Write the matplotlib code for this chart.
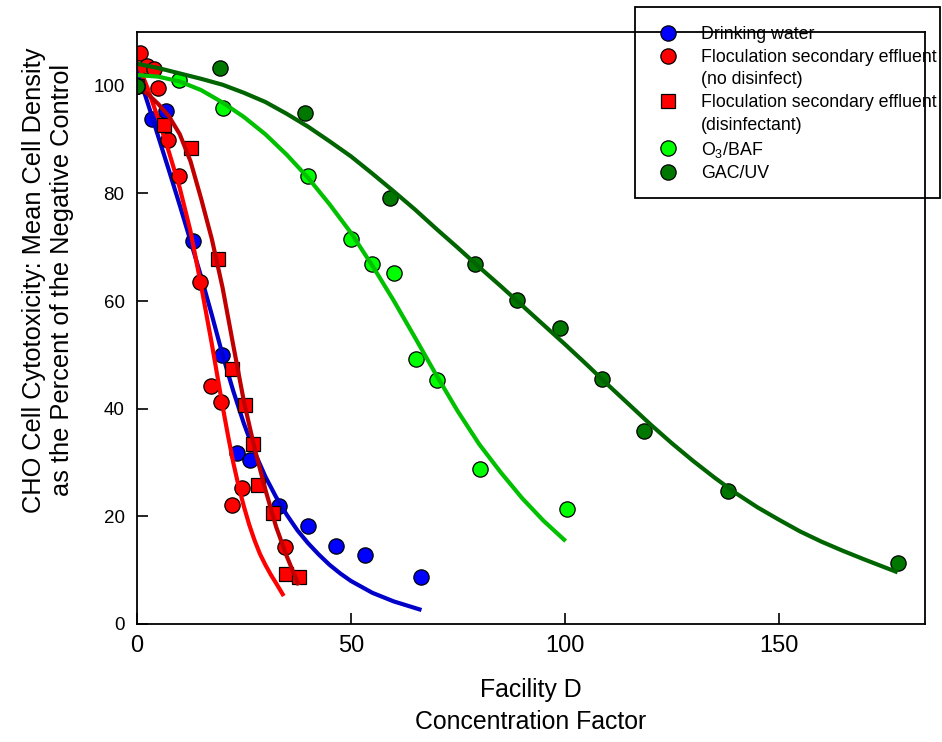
import matplotlib
matplotlib.use('Agg')
import matplotlib.pyplot as plt
from matplotlib.lines import Line2D
from matplotlib.patches import Rectangle

plt.rcParams['font.family'] = ['Liberation Sans', 'DejaVu Sans']
plt.rcParams['mathtext.fontset'] = 'custom'
plt.rcParams['mathtext.rm'] = 'Liberation Sans'

# measured points
dw_x = [0, 3.4, 6.8, 13.2, 19.8, 23.3, 26.5, 33.1, 39.9, 46.6, 53.2, 66.5]
dw_y = [100, 93.9, 95.3, 71.1, 50.0, 31.7, 30.5, 21.9, 18.2, 14.5, 12.8, 8.7]

nd_x = [0, 0.8, 2.3, 4.0, 5.0, 7.3, 9.9, 14.8, 17.3, 19.6, 22.2, 24.5, 34.5]
nd_y = [100, 106.1, 103.6, 103.1, 99.6, 90.0, 83.2, 63.5, 44.2, 41.2, 22.1, 25.2, 14.4]

dis_x = [0, 6.2, 12.6, 19.0, 22.2, 25.3, 27.2, 28.4, 31.7, 34.8, 37.9]
dis_y = [100, 92.8, 88.5, 67.8, 47.3, 40.6, 33.5, 25.9, 20.6, 9.2, 8.8]

o3_x = [0, 9.9, 20.0, 39.9, 50.1, 55.0, 60.1, 65.2, 70.2, 80.2, 100.4]
o3_y = [100, 101.0, 95.8, 83.3, 71.6, 66.9, 65.2, 49.2, 45.4, 28.8, 21.4]

gac_x = [0, 19.5, 39.3, 59.2, 78.9, 88.8, 98.8, 108.7, 118.5, 138.2, 177.9]
gac_y = [100, 103.3, 95.0, 79.1, 66.9, 60.2, 55.0, 45.5, 35.9, 24.8, 11.3]

# fitted curves
dw_fx = [0, 2.5, 5, 7.5, 10, 12.5, 15, 17.5, 20, 22.5, 25, 27.5, 30, 32.5, 35,
         37.5, 40, 42.5, 45, 47.5, 50, 55, 60, 66.5]
dw_fy = [103.0, 96.8, 90.5, 84.2, 77.8, 71.2, 64.5, 57.4, 50.0, 43.3, 37.2, 31.9, 27.4,
         23.6, 20.3, 17.4, 15.0, 12.9, 11.0, 9.4, 8.0, 5.8, 4.2, 2.6]

nd_fx = [0, 2.5, 5, 7.5, 10, 12.5, 15, 17.5, 20, 21.25, 22.5, 23.75, 25, 26.25, 27.5,
         28.75, 30, 31.25, 32.5, 34.3]
nd_fy = [104.5, 99.5, 93.8, 87.6, 81.0, 73.0, 62.8, 52.0, 40.5, 35.1, 30.0, 25.6, 21.8,
         18.4, 15.5, 13.0, 11.0, 9.2, 7.6, 5.2]

dis_fx = [0, 2.5, 5, 7.5, 10, 12.5, 15, 17.5, 20, 22.5, 25, 27.5, 30, 32.5, 35, 37.8]
dis_fy = [100.0, 98.5, 96.6, 94.3, 91.0, 86.0, 79.0, 71.5, 62.5, 51.8, 41.3, 32.6, 25.0, 18.1, 12.6, 7.2]

o3_fx = [0, 5, 10, 15, 20, 25, 30, 35, 40, 45, 50, 55, 60, 65, 70, 75, 80, 85, 90, 95, 100.2]
o3_fy = [102.0, 101.7, 100.8, 99.2, 96.9, 94.2, 91.0, 87.2, 82.9, 78.0, 72.7, 66.6, 60.1,
         53.2, 46.2, 39.5, 33.4, 28.2, 23.4, 19.2, 15.4]

gac_fx = [0, 5, 10, 15, 20, 25, 30, 35, 40, 45, 50, 55, 60, 65, 70, 75, 80, 85, 90, 95,
          100, 105, 110, 115, 120, 125, 130, 135, 140, 145, 150, 155, 160, 165, 170, 177.8]
gac_fy = [104.1, 103.3, 102.3, 101.3, 100.2, 98.7, 97.0, 94.8, 92.4, 89.7, 86.9, 83.7, 80.4,
          77.0, 73.4, 69.9, 66.3, 62.8, 59.2, 55.6, 52.0, 48.3, 44.5, 40.8, 37.1, 33.6, 30.3,
          27.2, 24.3, 21.7, 19.4, 17.2, 15.3, 13.6, 12.0, 9.6]

labels = ['Drinking water', 'Floculation secondary effluent', '(no disinfect)',
          'Floculation secondary effluent', '(disinfectant)',
          r'O$_\mathregular{3}$/BAF', 'GAC/UV']

fig = plt.figure(figsize=(9.42, 7.42), dpi=100)
ax = fig.add_axes([0.14544, 0.15903, 0.83652, 0.79784])

series = [
    (dw_x, dw_y, dw_fx, dw_fy, 'o', '#0000ff', '#0000c8'),
    (nd_x, nd_y, nd_fx, nd_fy, 'o', '#ff0000', '#ff0000'),
    (dis_x, dis_y, dis_fx, dis_fy, 's', '#ff0000', '#c00000'),
    (o3_x, o3_y, o3_fx, o3_fy, 'o', '#00ff00', '#00c000'),
    (gac_x, gac_y, gac_fx, gac_fy, 'o', '#007800', '#006400'),
]
for x, y, fx, fy, mk, fc, lc in series:
    ax.plot(x, y, linestyle='none', marker=mk, ms=11 if mk == 'o' else 10.5,
            mfc=fc, mec='black', mew=0.9)
    ax.plot(fx, fy, color=lc, lw=3, solid_capstyle='butt', solid_joinstyle='round')

ax.set_xlim(0, 184.2)
ax.set_ylim(0, 110)
ax.set_xticks([0, 50, 100, 150])
ax.set_yticks([0, 20, 40, 60, 80, 100])
ax.tick_params(direction='in', length=8, width=1.2)
ax.tick_params(axis='x', pad=8, labelsize=17)
ax.tick_params(axis='y', pad=9, labelsize=13.5)
for s in ax.spines.values():
    s.set_linewidth(1.3)

ax.set_xlabel('Facility D\nConcentration Factor', fontsize=17.9, labelpad=15, linespacing=1.45)
ax.set_ylabel('CHO Cell Cytotoxicity: Mean Cell Density\nas the Percent of the Negative Control',
              fontsize=18.3, linespacing=1.22)
ax.yaxis.set_label_coords(-0.080, 0.581)

# legend
handles = [
    Line2D([], [], ls='none', marker='o', ms=11, mfc='#0000ff', mec='black', mew=0.9),
    Line2D([], [], ls='none', marker='o', ms=11, mfc='#ff0000', mec='black', mew=0.9),
    Line2D([], [], ls='none', marker=None),
    Line2D([], [], ls='none', marker='s', ms=10.5, mfc='#ff0000', mec='black', mew=0.9),
    Line2D([], [], ls='none', marker=None),
    Line2D([], [], ls='none', marker='o', ms=11, mfc='#00ff00', mec='black', mew=0.9),
    Line2D([], [], ls='none', marker='o', ms=11, mfc='#007800', mec='black', mew=0.9),
]
fig.legend(handles, labels, loc='upper left', bbox_to_anchor=(0.6655, 0.984),
           frameon=False, fontsize=12.8, borderpad=0.3, handlelength=3.0,
           handletextpad=0.35, labelspacing=0.32)
fig.patches.append(Rectangle((0.6741, 0.7332), 0.3238, 0.2574, transform=fig.transFigure,
                             fill=False, lw=1.3, edgecolor='black', zorder=5))

fig.savefig('out.png', dpi=100)
